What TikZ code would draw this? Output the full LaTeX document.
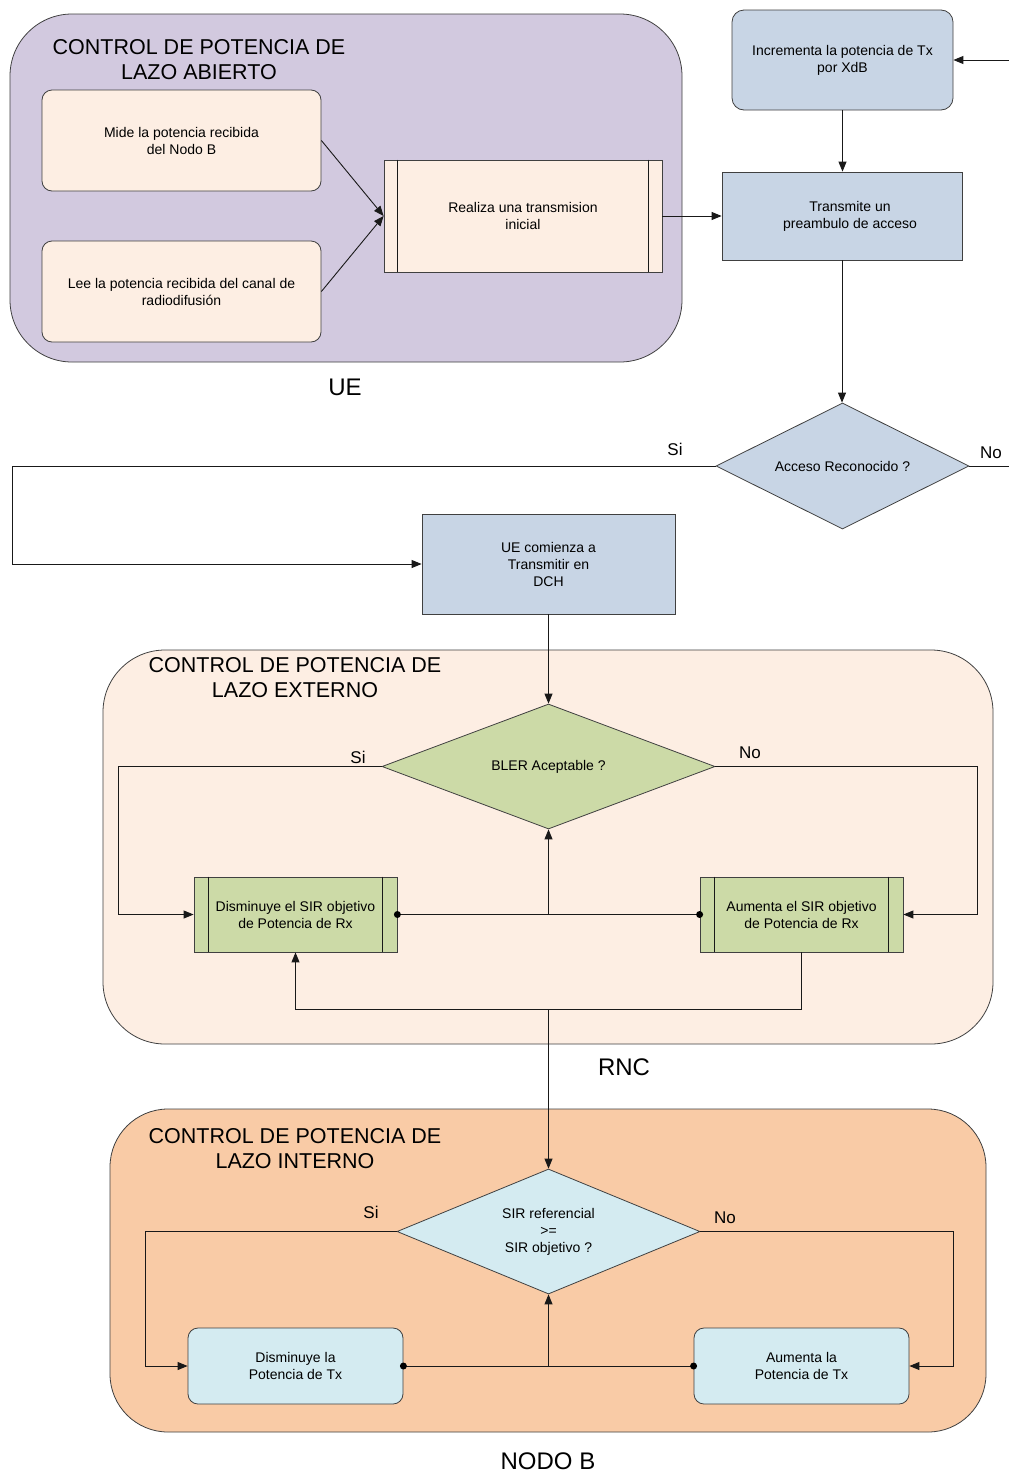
\documentclass[tikz,border=0pt]{standalone}
\usepackage{fontspec}
\setmainfont{Liberation Sans}
\usetikzlibrary{shapes.geometric,arrows.meta}
\definecolor{uepurple}{HTML}{D2C9DF}
\definecolor{peach}{HTML}{FDEEE3}
\definecolor{bluegray}{HTML}{C8D5E5}
\definecolor{leaf}{HTML}{CCDAA7}
\definecolor{orangebg}{HTML}{F9CBA6}
\definecolor{cyanbox}{HTML}{D4EBF1}
\begin{document}
\begin{tikzpicture}[x=1pt,y=-1pt,
 line/.style={draw=black!90, line width=0.9pt},
 arr/.style={line,-{Triangle[length=10pt,width=8pt]}},
 small/.style={font=\fontsize{14}{17}\selectfont, align=center},
 boxr/.style={small, draw=black!75, line width=0.8pt, rounded corners=10pt, inner sep=0pt},
 boxs/.style={small, draw=black!75, line width=0.8pt, inner sep=0pt},
 grp/.style={draw=black!75, line width=0.8pt, inner sep=0pt},
 title/.style={font=\fontsize{21.5}{25}\selectfont, align=center},
 biglab/.style={font=\fontsize{24}{28}\selectfont},
 lab/.style={font=\fontsize{17}{20}\selectfont},
 dia/.style={shape=diamond, small, draw=black!75, line width=0.8pt, inner sep=0pt, aspect=2},
 dot/.style={fill=black},
]
\useasboundingbox (0,0) rectangle (1009,1475);
\fill[white] (0,0) rectangle (1009,1475);

% ---------- groups ----------
\node[grp, fill=uepurple, rounded corners=62pt, minimum width=672pt, minimum height=348pt] (ue) at (346,188) {};
\node[grp, fill=peach, rounded corners=62pt, minimum width=890pt, minimum height=394pt] (rnc) at (548,847) {};
\node[grp, fill=orangebg, rounded corners=58pt, minimum width=876pt, minimum height=323pt] (nodob) at (548,1270.5) {};

\node[title] (tue) at (199,60) {CONTROL DE POTENCIA DE\\LAZO ABIERTO};
\node[title] (trnc) at (295,678) {CONTROL DE POTENCIA DE\\LAZO EXTERNO};
\node[title] (tnb) at (295,1149) {CONTROL DE POTENCIA DE\\LAZO INTERNO};

\node[biglab] (lue) at (345,387) {UE};
\node[biglab] (lrnc) at (624,1067) {RNC};
\node[biglab] (lnb) at (548,1461) {NODO B};

% ---------- UE ----------
\node[boxr, fill=peach, minimum width=279pt, minimum height=101pt] (mide) at (181.5,140.5) {Mide la potencia recibida\\del Nodo B};
\node[boxr, fill=peach, minimum width=279pt, minimum height=101pt] (lee) at (181.5,291.5) {Lee la potencia recibida del canal de\\radiodifusi\'on};
\node[boxs, fill=peach, minimum width=278pt, minimum height=112pt] (real) at (523,216) {Realiza una transmision\\inicial};
\draw[line] ([xshift=14pt]real.north west) -- ([xshift=14pt]real.south west);
\draw[line] ([xshift=-14pt]real.north east) -- ([xshift=-14pt]real.south east);

\node[boxr, fill=bluegray, rounded corners=12pt, minimum width=221pt, minimum height=100pt] (inc) at (842.5,60) {Incrementa la potencia de Tx\\por XdB};
\node[boxs, fill=bluegray, minimum width=240pt, minimum height=88pt] (trans) at (842,216) {\hspace*{16pt}Transmite un\\\hspace*{16pt}preambulo de acceso};
\node[dia, fill=bluegray, minimum width=253pt, minimum height=126pt] (acc) at (842.5,466) {Acceso Reconocido ?};
\node[boxs, fill=bluegray, minimum width=253pt, minimum height=100pt] (dch) at (548.5,564) {UE comienza a\\Transmitir en\\DCH};

\coordinate (inR) at (1009,60);
\coordinate (noR) at (1009,466);
\coordinate (siL) at (12,466);

\draw[arr] (mide.east) -- (real.west);
\draw[arr] (lee.east) -- (real.west);
\draw[arr] (real.east) -- (real.east -| trans.west);
\draw[arr] (inR) -- (inc.east);
\draw[arr] (inc.south) -- (inc.south |- trans.north);
\draw[arr] (trans.south) -- (trans.south |- acc.north);
\draw[line] (acc.east) -- (noR);
\draw[arr] (acc.west) -- (siL) |- (dch.west);
\node[lab] (sia) at (675,449) {Si};
\node[lab] (noa) at (991,453) {No};

% ---------- RNC ----------
\node[dia, fill=leaf, minimum width=333pt, minimum height=125pt] (bler) at (548.5,766.5) {BLER Aceptable ?};
\node[boxs, fill=leaf, minimum width=203pt, minimum height=75pt] (dis) at (295.5,914.5) {Disminuye el SIR objetivo\\de Potencia de Rx};
\node[boxs, fill=leaf, minimum width=203pt, minimum height=75pt] (aum) at (801.5,914.5) {Aumenta el SIR objetivo\\de Potencia de Rx};
\foreach \n in {dis,aum}{
  \draw[line] ([xshift=15pt]\n.north west) -- ([xshift=15pt]\n.south west);
  \draw[line] ([xshift=-15pt]\n.north east) -- ([xshift=-15pt]\n.south east);
}
\node[lab] (sib) at (358,757) {Si};
\node[lab] (nob) at (750,753) {No};

\coordinate (c1) at (118,914.5);
\coordinate (c2) at (977,914.5);
\coordinate (c3) at (548.5,1009);

\draw[arr] (dch.south) -- (dch.south |- bler.north);
\draw[arr] (bler.west) -| (c1) -- (dis.west);
\draw[arr] (bler.east) -| (c2) -- (aum.east);
\draw[line] (dis.east) -- (aum.west);
\draw[arr] (bler.south |- dis.east) -- (bler.south);
\fill[dot] (dis.east) circle (3.5pt);
\fill[dot] (aum.west) circle (3.5pt);
\draw[arr] (aum.south) |- (c3) -| (dis.south);

% ---------- NODO B ----------
\node[dia, fill=cyanbox, minimum width=303pt, minimum height=125pt] (sir) at (548.5,1231.5) {SIR referencial\\>=\\SIR objetivo ?};
\node[boxr, fill=cyanbox, minimum width=215pt, minimum height=76pt] (disb) at (295.5,1366) {Disminuye la\\Potencia de Tx};
\node[boxr, fill=cyanbox, minimum width=215pt, minimum height=76pt] (aumb) at (801.5,1366) {Aumenta la\\Potencia de Tx};
\node[lab] (sic) at (371,1212) {Si};
\node[lab] (noc) at (725,1218) {No};

\coordinate (d1) at (145,1366);
\coordinate (d2) at (953,1366);

\draw[arr] (c3) -- (sir.north);
\draw[arr] (sir.west) -| (d1) -- (disb.west);
\draw[arr] (sir.east) -| (d2) -- (aumb.east);
\draw[line] (disb.east) -- (aumb.west);
\draw[arr] (sir.south |- disb.east) -- (sir.south);
\fill[dot] (disb.east) circle (3.5pt);
\fill[dot] (aumb.west) circle (3.5pt);
\end{tikzpicture}
\end{document}
